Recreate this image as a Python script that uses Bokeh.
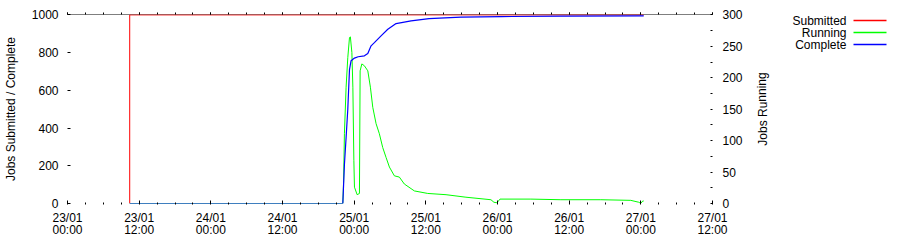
import pandas as pd
from bokeh.plotting import figure
from bokeh.layouts import row
from bokeh.models import (Range1d, LinearAxis, DatetimeAxis, FixedTicker,
                          DatetimeTickFormatter, Span, ColumnDataSource)
from bokeh.embed import file_html
from bokeh.resources import INLINE
from bokeh.core.properties import value

# ---------------- data ----------------
series_names = ["Submitted", "Running", "Complete"]
series_colors = ["#ff0000", "#00ff00", "#0000ff"]

submitted_time = ["2009-01-23 10:25", "2009-01-23 10:25", "2009-01-27 00:29"]
submitted_jobs = [0, 1000, 1000]

complete_time = [
    "2009-01-23 10:25", "2009-01-24 22:06", "2009-01-24 22:22", "2009-01-24 22:39",
    "2009-01-24 22:56", "2009-01-24 23:13", "2009-01-24 23:29", "2009-01-25 00:03",
    "2009-01-25 00:40", "2009-01-25 01:43", "2009-01-25 02:17", "2009-01-25 02:50",
    "2009-01-25 03:23", "2009-01-25 04:30", "2009-01-25 05:38", "2009-01-25 07:01",
    "2009-01-25 09:32", "2009-01-25 12:32", "2009-01-25 17:53", "2009-01-26 00:35",
    "2009-01-26 10:36", "2009-01-27 00:29",
]
complete_jobs = [
    0, 0, 205, 350,
    500, 710, 757, 771,
    778, 783, 795, 836,
    853, 889, 924, 954,
    968, 980, 988, 991,
    993, 995,
]

running_time = [
    "2009-01-23 10:25", "2009-01-24 22:06", "2009-01-24 22:14", "2009-01-24 22:22",
    "2009-01-24 22:39", "2009-01-24 22:56", "2009-01-24 23:13", "2009-01-24 23:22",
    "2009-01-24 23:37", "2009-01-24 23:47", "2009-01-24 23:57", "2009-01-25 00:03",
    "2009-01-25 00:30", "2009-01-25 00:53", "2009-01-25 01:00", "2009-01-25 01:17",
    "2009-01-25 01:43", "2009-01-25 02:17", "2009-01-25 02:43", "2009-01-25 03:07",
    "2009-01-25 03:40", "2009-01-25 04:13", "2009-01-25 04:47", "2009-01-25 05:21",
    "2009-01-25 05:54", "2009-01-25 06:44", "2009-01-25 07:34", "2009-01-25 08:24",
    "2009-01-25 10:05", "2009-01-25 12:19", "2009-01-25 15:23", "2009-01-25 18:43",
    "2009-01-25 22:54", "2009-01-25 23:24", "2009-01-25 23:54", "2009-01-26 00:25",
    "2009-01-26 05:35", "2009-01-26 10:37", "2009-01-26 17:18", "2009-01-26 22:19",
    "2009-01-26 23:39", "2009-01-26 23:59", "2009-01-27 00:19", "2009-01-27 00:29",
]
running_jobs = [
    0, 0, 36, 111,
    185, 232, 264, 265,
    240, 185, 68, 26,
    14, 16, 211, 222,
    219, 211, 185, 153,
    127, 111, 89, 73,
    58, 44, 42, 31,
    20, 16, 14, 10,
    6, 2, 1, 7,
    7, 6, 6, 5,
    2, 0, 4, 4,
]

x_start = "2009-01-23 00:00"
x_end = "2009-01-27 12:00"
left_ticks = [0, 200, 400, 600, 800, 1000]
right_ticks = [0, 50, 100, 150, 200, 250, 300]
right_minor = [25, 75, 125, 175, 225, 275]
left_label = "Jobs Submitted / Complete"
right_label = "Jobs Running"

# ---------------- helpers ----------------
def to_ms(ts):
    return pd.Timestamp(ts).timestamp() * 1000.0

major_x = [to_ms(t) for t in pd.date_range(x_start, x_end, freq="12h")]
minor_x = [to_ms(t) for t in pd.date_range(x_start, x_end, freq="3h")]

FONT = "Liberation Sans"
FS = "12px"
TOP, BOTTOM = 14, 203      # frame rows on the page
MAIN_W = 748               # main figure width (frame right edge at 712)

p = figure(width=MAIN_W, height=252, output_backend="svg", toolbar_location=None,
           x_axis_type=None, y_axis_location=None,
           x_range=Range1d(to_ms(x_start), to_ms(x_end)),
           y_range=Range1d(0, 1002),
           min_border_left=66, min_border_right=MAIN_W - 712, min_border_top=TOP,
           min_border_bottom=252 - BOTTOM)
p.extra_y_ranges = {"run": Range1d(0, 300 * 1002 / 1000)}
p.outline_line_color = None
p.background_fill_color = "white"
p.border_fill_color = "white"
p.xgrid.visible = False
p.ygrid.visible = False

fmt = "%d/%m\n%H:%M"
xfmt = DatetimeTickFormatter(minutes=fmt, hourmin=fmt, hours=fmt, days=fmt,
                             months=fmt, years=fmt)

xaxis = DatetimeAxis(ticker=FixedTicker(ticks=major_x, minor_ticks=minor_x),
                     formatter=xfmt)
xaxis.axis_line_color = None
xaxis.major_tick_in = 3
xaxis.major_tick_out = 0
xaxis.minor_tick_in = 1
xaxis.minor_tick_out = 1
xaxis.major_label_standoff = 6
xaxis.major_label_text_font = FONT
xaxis.major_label_text_font_size = FS
xaxis.major_label_text_line_height = 0.9
xaxis.major_label_text_color = "black"
p.add_layout(xaxis, "below")

# mirrored x ticks on the top border (no labels)
xtop = DatetimeAxis(ticker=FixedTicker(ticks=major_x, minor_ticks=minor_x),
                    formatter=xfmt)
xtop.axis_line_color = None
xtop.major_tick_in = 0
xtop.major_tick_out = 2
xtop.minor_tick_in = 0
xtop.minor_tick_out = 2
xtop.major_label_standoff = 0
xtop.major_label_text_font_size = "0px"
xtop.major_label_text_alpha = 0
p.add_layout(xtop, "above")

laxis = LinearAxis(ticker=FixedTicker(ticks=left_ticks), axis_label=left_label)
laxis.axis_line_color = None
laxis.major_tick_in = 3
laxis.major_tick_out = 0
laxis.minor_tick_line_color = None
laxis.major_label_standoff = 9
laxis.major_label_text_font = FONT
laxis.major_label_text_font_size = FS
laxis.major_label_text_color = "black"
laxis.axis_label_standoff = 11
laxis.axis_label_text_font = FONT
laxis.axis_label_text_font_size = FS
laxis.axis_label_text_font_style = "normal"
laxis.axis_label_text_color = "black"
p.add_layout(laxis, "left")

raxis = LinearAxis(y_range_name="run",
                   ticker=FixedTicker(ticks=right_ticks, minor_ticks=right_minor))
raxis.axis_line_color = None
raxis.major_tick_in = 2
raxis.major_tick_out = 0
raxis.minor_tick_in = 2
raxis.minor_tick_out = 0
raxis.major_label_standoff = 10
raxis.major_label_text_font = FONT
raxis.major_label_text_font_size = FS
raxis.major_label_text_color = "black"
p.add_layout(raxis, "right")

top_border = Span(location=1002, dimension="width", line_color="black",
                  line_width=1, level="underlay")
p.add_layout(top_border)

p.line(x=pd.to_datetime(submitted_time), y=submitted_jobs,
       line_color=series_colors[0], line_width=1)
p.line(x=pd.to_datetime(running_time), y=running_jobs, y_range_name="run",
       line_color=series_colors[1], line_width=1)
p.line(x=pd.to_datetime(complete_time), y=complete_jobs,
       line_color=series_colors[2], line_width=1.2)

# ---------------- side panel: y2 title and key ----------------
# The row layout aligns this figure's frame with the main frame (rows TOP..BOTTOM),
# so its x range is page columns from MAIN_W and its y range is page rows.
SIDE_W = 900 - MAIN_W
lg = figure(width=SIDE_W, height=252, output_backend="svg", toolbar_location=None,
            x_range=Range1d(MAIN_W, 900), y_range=Range1d(BOTTOM, TOP),
            x_axis_type=None, y_axis_type=None,
            min_border_left=0, min_border_right=0,
            min_border_top=TOP, min_border_bottom=252 - BOTTOM)
lg.outline_line_color = None
lg.xgrid.visible = False
lg.ygrid.visible = False

lg.text(x=[762], y=[(TOP + BOTTOM) / 2], text=[right_label], angle=1.5708,
        text_align="center", text_baseline="middle", text_font=value(FONT),
        text_font_size=FS, text_color="black")

key_rows = [20, 32, 44]
src = ColumnDataSource(dict(name=series_names, color=series_colors, y=key_rows,
                            tx=[846] * 3, x0=[853] * 3, x1=[886] * 3))
lg.text(x="tx", y="y", text="name", source=src, text_align="right",
        text_baseline="middle", text_font=value(FONT), text_font_size=FS,
        text_color="black")
lg.segment(x0="x0", y0="y", x1="x1", y1="y", source=src, line_color="color",
           line_width=1.5)

layout = row(p, lg)
open("out.html", "w").write(file_html(layout, INLINE))
